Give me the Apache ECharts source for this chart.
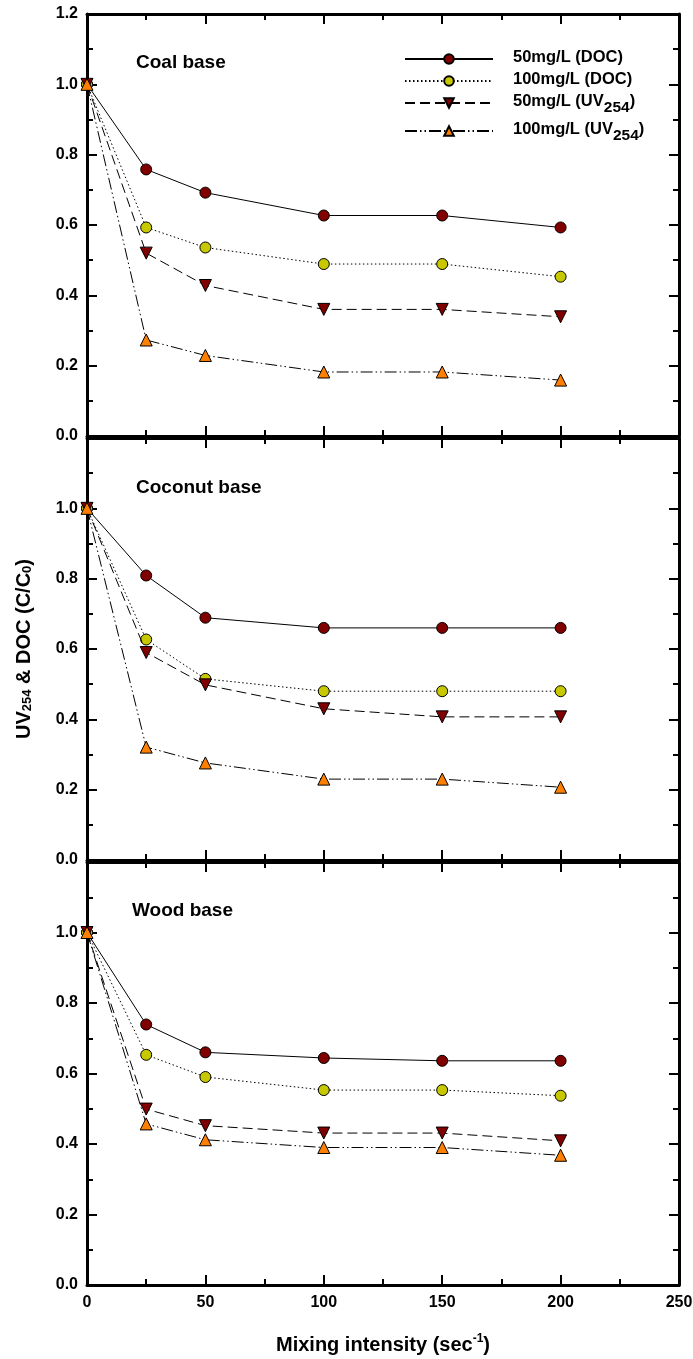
<!DOCTYPE html>
<html>
<head>
<meta charset="utf-8">
<script src="https://cdn.jsdelivr.net/npm/echarts@6/dist/echarts.min.js"></script>
<style>
  html, body { margin: 0; padding: 0; background: #fff; }
  #chart { width: 693px; height: 1359px; }
</style>
</head>
<body>
<div id="chart"></div>
<script>
// Mixing intensity (sec^-1)
const mixing = [0, 25, 50, 100, 150, 200];

// Panel names, top to bottom
const panels = ['Coal base', 'Coconut base', 'Wood base'];

// Series names (legend)
const seriesNames = ['50mg/L (DOC)', '100mg/L (DOC)', '50mg/L (UV254)', '100mg/L (UV254)'];

// Coal base, C/C0
const coalDoc50  = [1.0, 0.758, 0.692, 0.627, 0.627, 0.593];
const coalDoc100 = [1.0, 0.593, 0.536, 0.489, 0.489, 0.453];
const coalUv50   = [1.0, 0.520, 0.428, 0.360, 0.360, 0.339];
const coalUv100  = [1.0, 0.273, 0.229, 0.182, 0.182, 0.159];

// Coconut base, C/C0
const cocoDoc50  = [1.0, 0.809, 0.689, 0.660, 0.660, 0.660];
const cocoDoc100 = [1.0, 0.627, 0.515, 0.480, 0.480, 0.480];
const cocoUv50   = [1.0, 0.590, 0.498, 0.430, 0.407, 0.407];
const cocoUv100  = [1.0, 0.321, 0.276, 0.230, 0.230, 0.207];

// Wood base, C/C0
const woodDoc50  = [1.0, 0.739, 0.660, 0.644, 0.636, 0.636];
const woodDoc100 = [1.0, 0.653, 0.590, 0.553, 0.553, 0.537];
const woodUv50   = [1.0, 0.499, 0.452, 0.431, 0.431, 0.409];
const woodUv100  = [1.0, 0.457, 0.412, 0.390, 0.390, 0.368];

const panelData = [
  [coalDoc50, coalDoc100, coalUv50, coalUv100],
  [cocoDoc50, cocoDoc100, cocoUv50, cocoUv100],
  [woodDoc50, woodDoc100, woodUv50, woodUv100]
];

const FONT = '"Liberation Sans", Arial, sans-serif';

// Line / marker style per series
const styles = [
  { line: 'solid', symbol: 'circle', size: 11, rotate: 0, fill: '#800000' },
  { line: [1.5, 2.5], symbol: 'circle', size: 11, rotate: 0, fill: '#c8c800' },
  { line: [10, 5], symbol: 'triangle', size: 12, rotate: 180, fill: '#800000' },
  { line: [12, 3, 1.5, 3, 1.5, 3], symbol: 'triangle', size: 12, rotate: 0, fill: '#ff8000' }
];

// Plot frames: [top, height]
const frames = [[14, 422], [438, 422], [862, 423]];

const grids = frames.map(f => ({
  left: 87, right: 14, top: f[0], height: f[1],
  containLabel: false, outerBoundsMode: 'none'
}));

const axisLine = { show: true, onZero: false, lineStyle: { color: '#000', width: 3 } };
const axisTick = { show: true, inside: true, length: 10, lineStyle: { color: '#000', width: 2 } };
const minorTick = { show: true, splitNumber: 2, length: 6, lineStyle: { color: '#000', width: 2 } };

const xAxes = [];
const yAxes = [];
panels.forEach((p, i) => {
  const last = i === panels.length - 1;
  xAxes.push({
    gridIndex: i, type: 'value', position: 'bottom', min: 0, max: 250, interval: 50,
    axisLine, axisTick, minorTick, splitLine: { show: false },
    axisLabel: { show: last, margin: 10, color: '#000', fontFamily: FONT, fontWeight: 'bold', fontSize: 16 },
    name: last ? 'Mixing intensity (sec{sup|-1})' : '',
    nameLocation: 'middle', nameGap: 48,
    nameTextStyle: {
      color: '#000', fontFamily: FONT, fontWeight: 'bold', fontSize: 20,
      rich: { sup: { fontSize: 12, fontWeight: 'bold', fontFamily: FONT, color: '#000', verticalAlign: 'top', lineHeight: 24 } }
    }
  });
  xAxes.push({
    gridIndex: i, type: 'value', position: 'top', min: 0, max: 250, interval: 50,
    axisLine, axisTick, minorTick, splitLine: { show: false }, axisLabel: { show: false }
  });
  yAxes.push({
    gridIndex: i, type: 'value', position: 'left', min: 0, max: 1.2, interval: 0.2,
    axisLine, axisTick, minorTick, splitLine: { show: false },
    axisLabel: {
      margin: 9, color: '#000', fontFamily: FONT, fontWeight: 'bold', fontSize: 16,
      formatter: v => (i > 0 && v > 1.1) ? '' : v.toFixed(1)
    },
    name: i === 1 ? 'UV{sub|254} & DOC (C/C{sub|0})' : '',
    nameLocation: 'middle', nameRotate: 90, nameGap: 53,
    nameTextStyle: {
      color: '#000', fontFamily: FONT, fontWeight: 'bold', fontSize: 20,
      rich: { sub: { fontSize: 13, fontWeight: 'bold', fontFamily: FONT, color: '#000', verticalAlign: 'bottom', lineHeight: 14 } }
    }
  });
  yAxes.push({
    gridIndex: i, type: 'value', position: 'right', min: 0, max: 1.2, interval: 0.2,
    axisLine, axisTick, minorTick, splitLine: { show: false }, axisLabel: { show: false }
  });
});

const series = [];
panelData.forEach((set, i) => {
  set.forEach((vals, k) => {
    const s = styles[k];
    series.push({
      type: 'line',
      name: seriesNames[k],
      xAxisIndex: 2 * i,
      yAxisIndex: 2 * i,
      data: mixing.map((x, j) => [x, vals[j]]),
      symbol: s.symbol,
      symbolSize: s.size,
      symbolRotate: s.rotate,
      showAllSymbol: true,
      lineStyle: { color: '#000', width: 1, type: s.line },
      itemStyle: { color: s.fill, borderColor: '#000', borderWidth: 1 },
      color: s.fill,
      z: 2 + k
    });
  });
});

const titles = panels.map((p, i) => ({
  text: p,
  left: [136, 136, 132][i],
  top: [53, 478, 901][i],
  padding: 0,
  textStyle: { color: '#000', fontFamily: FONT, fontWeight: 'bold', fontSize: 19 }
}));

// Legend label: "UV254" gets a lowered 254
function legendLabel(name) {
  const parts = name.split('UV254');
  if (parts.length === 1) return '{m|' + name + '}';
  return '{m|' + parts[0] + 'UV}{s|254}{m|' + parts[1] + '}';
}

const legendRichBase = { fontWeight: 'bold', fontFamily: FONT, color: '#000' };

const option = {
  animation: false,
  backgroundColor: '#fff',
  title: titles,
  grid: grids,
  xAxis: xAxes,
  yAxis: yAxes,
  legend: {
    data: seriesNames,
    orient: 'vertical',
    left: 404,
    top: 49,
    padding: 0,
    itemWidth: 88,
    itemHeight: 12,
    itemGap: 5,
    selectedMode: false,
    formatter: legendLabel,
    textStyle: {
      color: '#000', fontFamily: FONT, fontWeight: 'bold', fontSize: 16.5,
      padding: [0, 0, 0, 15],
      rich: {
        m: Object.assign({ fontSize: 16.5, lineHeight: 20, verticalAlign: 'top' }, legendRichBase),
        s: Object.assign({ fontSize: 15.5, lineHeight: 14, verticalAlign: 'top', padding: [7, 0, 0, 0] }, legendRichBase)
      }
    }
  },
  series
};

const chart = echarts.init(document.getElementById('chart'), null, { renderer: 'canvas' });
chart.setOption(option);
</script>
</body>
</html>
